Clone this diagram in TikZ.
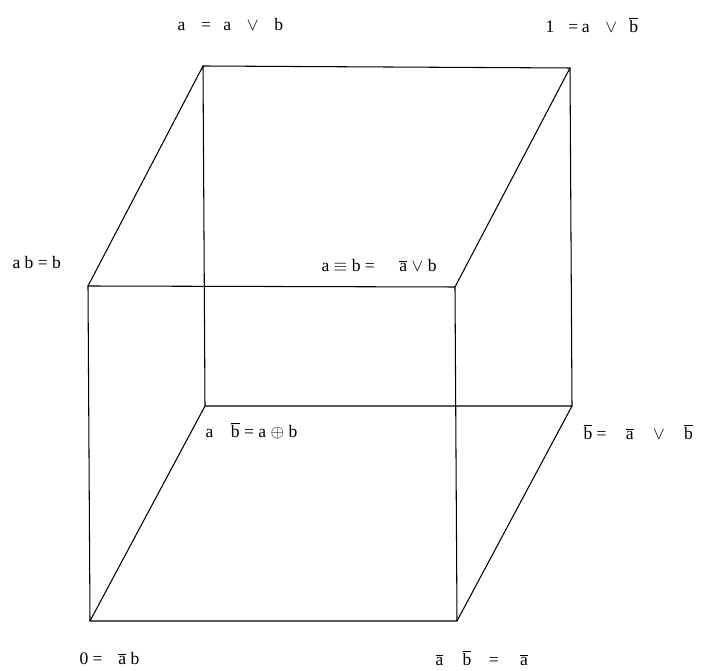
\documentclass[tikz,border=0pt]{standalone}
\usepackage{fontspec}
\setmainfont{Liberation Serif}
\usepackage{tikz}
\newcommand{\nb}[1]{$\overline{\mbox{#1}}$}

\begin{document}
\begin{tikzpicture}[x=0.02cm, y=-0.02cm, line width=0.6pt,
    lbl/.style={anchor=base west, inner sep=0pt, font=\fontsize{10}{12}\selectfont}]
  \useasboundingbox (0,0) rectangle (704,671);
  % corners of the cube
  \coordinate (ftl) at (88,286);
  \coordinate (ftr) at (455,287);
  \coordinate (fbl) at (90,621);
  \coordinate (fbr) at (457,621);
  \coordinate (btl) at (203,66);
  \coordinate (btr) at (570,68);
  \coordinate (bbl) at (205,406);
  \coordinate (bbr) at (572,406);
  % edges
  \draw (ftl) -- (ftr) -- (fbr) -- (fbl) -- cycle;
  \draw (btl) -- (btr) -- (bbr) -- (bbl) -- cycle;
  \draw (ftl) -- (btl);
  \draw (ftr) -- (btr);
  \draw (fbl) -- (bbl);
  \draw (fbr) -- (bbr);
  % labels
  \node[lbl] (top) at (177,31) {a\hspace{9pt}=\hspace{7pt}a\hspace{9pt}$\vee$\hspace{9pt}b};
  \node[lbl] (one) at (545,33) {1\hspace{8pt}=\hspace{2pt}a\hspace{9pt}$\vee$\hspace{7pt}\nb{b}};
  \node[lbl] (ab) at (12,269) {a b = b};
  \node[lbl] (equiv) at (321,272) {a $\equiv$ b =\hspace{14pt}\nb{a} $\vee$ b};
  \node[lbl] (xor) at (205,438) {a\hspace{10pt}\nb{b} = a $\oplus$ b};
  \node[lbl] (notb) at (583,440) {\nb{b} =\hspace{11pt}\nb{a}\hspace{11pt}$\vee$\hspace{11pt}\nb{b}};
  \node[lbl] (zero) at (79,665) {0 =\hspace{9pt}\nb{a} b};
  \node[lbl] (nota) at (435,666) {\nb{a}\hspace{11pt}\nb{b}\hspace{10pt}=\hspace{12pt}\nb{a}};
\end{tikzpicture}
\end{document}
